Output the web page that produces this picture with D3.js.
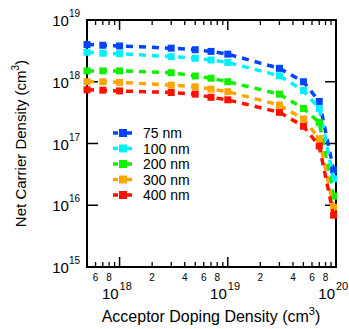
<!DOCTYPE html>
<html>
<head>
<meta charset="utf-8">
<script src="https://cdn.jsdelivr.net/npm/d3@7"></script>
<style>
  body { margin: 0; background: #fff; }
  svg { font-family: "Liberation Sans", Arial, sans-serif; }
</style>
</head>
<body>
<div id="chart"></div>
<script>
// acceptor doping (cm^-3)
const doping = [5e17, 7e17, 1e18, 3e18, 5e18, 7e18, 1e19, 3e19, 5e19, 7e19, 9.5e19];

const series = [
  { label: '75 nm',  color: '#0044ff', values: [4.0e18, 3.9e18, 3.8e18, 3.5e18, 3.3e18, 3.1e18, 2.8e18, 1.65e18, 1.0e18, 4.8e17, 3.7e16] },
  { label: '100 nm', color: '#00f0ff', values: [3.0e18, 2.9e18, 2.85e18, 2.55e18, 2.4e18, 2.25e18, 2.05e18, 1.25e18, 7.2e17, 3.7e17, 2.7e16] },
  { label: '200 nm', color: '#10f000', values: [1.5e18, 1.5e18, 1.5e18, 1.4e18, 1.24e18, 1.14e18, 1.0e18, 6.3e17, 3.7e17, 2.2e17, 1.4e16] },
  { label: '300 nm', color: '#ffa500', values: [1.0e18, 1.0e18, 9.8e17, 8.8e17, 8.3e17, 7.6e17, 6.9e17, 4.2e17, 2.5e17, 1.2e17, 9.3e15] },
  { label: '400 nm', color: '#ff1000', values: [7.4e17, 7.3e17, 7.1e17, 6.7e17, 6.3e17, 5.6e17, 5.1e17, 3.2e17, 1.9e17, 9.1e16, 6.9e15] }
];

const yMajor = [1e15, 1e16, 1e17, 1e18, 1e19];
const xMajor = [1e18, 1e19, 1e20];
const xMinorLabels = [6e17, 8e17, 2e18, 4e18, 6e18, 8e18, 2e19, 4e19, 6e19, 8e19];

const width = 349, height = 329;
const margin = { top: 20, right: 13, bottom: 62, left: 87 };

const svg = d3.select('#chart')
  .append('svg')
  .attr('width', width)
  .attr('height', height);

const x = d3.scaleLog()
  .domain([5e17, 1e20])
  .range([margin.left, width - margin.right]);

const y = d3.scaleLog()
  .domain([1e15, 1e19])
  .range([height - margin.bottom, margin.top]);

// minor x ticks: every integer multiple inside the domain
const xMinor = [];
[1e17, 1e18, 1e19].forEach(d => {
  for (let k = 2; k <= 9; k++) {
    const v = k * d;
    if (v > 5e17 && v < 1e20) xMinor.push(v);
  }
});

const fmtMinor = v => String(Math.round(v / Math.pow(10, Math.floor(Math.log10(v)))));
const exp = v => Math.round(Math.log10(v));

// frame
svg.append('rect')
  .attr('x', margin.left)
  .attr('y', margin.top)
  .attr('width', width - margin.left - margin.right)
  .attr('height', height - margin.top - margin.bottom)
  .attr('fill', 'none')
  .attr('stroke', '#000')
  .attr('stroke-width', 2);

const bottomY = y.range()[0], topY = y.range()[1];
const leftX = x.range()[0], rightX = x.range()[1];

// x ticks bottom and top
const ticks = svg.append('g').attr('stroke', '#000');
xMinor.forEach(v => {
  ticks.append('line').attr('x1', x(v)).attr('x2', x(v))
    .attr('y1', bottomY).attr('y2', bottomY - 5).attr('stroke-width', 1.3);
  ticks.append('line').attr('x1', x(v)).attr('x2', x(v))
    .attr('y1', topY).attr('y2', topY + 5).attr('stroke-width', 1.3);
});
xMajor.forEach(v => {
  ticks.append('line').attr('x1', x(v)).attr('x2', x(v))
    .attr('y1', bottomY).attr('y2', bottomY - 10).attr('stroke-width', 1.5);
  ticks.append('line').attr('x1', x(v)).attr('x2', x(v))
    .attr('y1', topY).attr('y2', topY + 10).attr('stroke-width', 1.5);
});
// y ticks left and right
yMajor.forEach(v => {
  ticks.append('line').attr('x1', leftX).attr('x2', leftX + 11)
    .attr('y1', y(v)).attr('y2', y(v)).attr('stroke-width', 1.5);
  ticks.append('line').attr('x1', rightX).attr('x2', rightX - 11)
    .attr('y1', y(v)).attr('y2', y(v)).attr('stroke-width', 1.5);
});

// x minor labels
svg.append('g')
  .selectAll('text')
  .data(xMinorLabels)
  .join('text')
  .attr('x', d => x(d))
  .attr('y', 281)
  .attr('text-anchor', 'middle')
  .attr('font-size', 10)
  .text(fmtMinor);

// x major labels: "10" ends at the tick, exponent starts there
const xl = svg.append('g');
xl.selectAll('text.base')
  .data(xMajor)
  .join('text')
  .attr('class', 'base')
  .attr('x', d => x(d) - 1)
  .attr('y', 299)
  .attr('text-anchor', 'end')
  .attr('font-size', 15)
  .text('10');
xl.selectAll('text.exp')
  .data(xMajor)
  .join('text')
  .attr('class', 'exp')
  .attr('x', d => x(d))
  .attr('y', 290)
  .attr('font-size', 11)
  .text(d => exp(d));

// y major labels
const yl = svg.append('g')
  .selectAll('text')
  .data(yMajor)
  .join('text')
  .attr('x', 80)
  .attr('y', d => y(d) + 6)
  .attr('text-anchor', 'end')
  .attr('font-size', 15);
yl.append('tspan').text('10');
yl.append('tspan').attr('dy', -9).attr('font-size', 10).text(d => exp(d));

// axis titles
const xt = svg.append('text')
  .attr('x', 211)
  .attr('y', 322)
  .attr('text-anchor', 'middle')
  .attr('font-size', 16);
xt.append('tspan').text('Acceptor Doping Density (cm');
xt.append('tspan').attr('dy', -7).attr('font-size', 11).text('3');
xt.append('tspan').attr('dy', 7).text(')');

const yt = svg.append('text')
  .attr('transform', `translate(26,${(topY + bottomY) / 2}) rotate(-90)`)
  .attr('text-anchor', 'middle')
  .attr('font-size', 15);
yt.append('tspan').text('Net Carrier Density (cm');
yt.append('tspan').attr('dy', -7).attr('font-size', 10).text('3');
yt.append('tspan').attr('dy', 7).text(')');

// data
const plot = svg.append('g');
const line = d3.line()
  .x((d, i) => x(doping[i]))
  .y(d => y(d));

series.forEach(s => {
  const g = plot.append('g');
  g.append('path')
    .attr('d', line(s.values))
    .attr('fill', 'none')
    .attr('stroke', s.color)
    .attr('stroke-width', 3.5)
    .attr('stroke-dasharray', '7,6');
  g.selectAll('rect')
    .data(s.values)
    .join('rect')
    .attr('x', (d, i) => x(doping[i]) - 3.5)
    .attr('y', d => y(d) - 3.5)
    .attr('width', 7)
    .attr('height', 7)
    .attr('fill', s.color);
});

// legend
const legend = svg.append('g');
series.forEach((s, i) => {
  const ly = 133 + i * 15.5;
  legend.append('line')
    .attr('x1', 113).attr('x2', 133)
    .attr('y1', ly).attr('y2', ly)
    .attr('stroke', s.color)
    .attr('stroke-width', 3.5)
    .attr('stroke-dasharray', '5,2');
  legend.append('rect')
    .attr('x', 123 - 4).attr('y', ly - 4)
    .attr('width', 8).attr('height', 8)
    .attr('fill', s.color);
  legend.append('text')
    .attr('x', 143)
    .attr('y', ly + 5)
    .attr('font-size', 14)
    .text(s.label);
});
</script>
</body>
</html>
